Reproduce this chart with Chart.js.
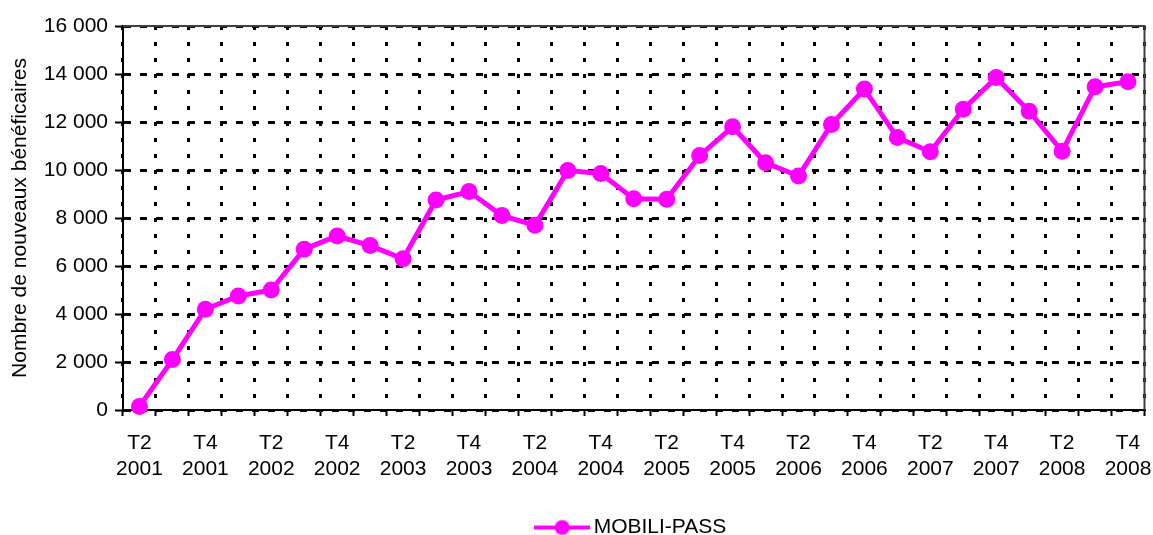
<!DOCTYPE html>
<html>
<head>
<meta charset="utf-8">
<script src="https://cdn.jsdelivr.net/npm/chart.js@4/dist/chart.umd.min.js"></script>
<style>
  html, body { margin: 0; padding: 0; background: #fff; }
  #wrap { width: 1153px; height: 535px; }
</style>
</head>
<body>
<div id="wrap"><canvas id="chart"></canvas></div>
<script>
// quarters T2 2001 -> T4 2008
const quarters = [
  'T2 2001', 'T3 2001', 'T4 2001',
  'T1 2002', 'T2 2002', 'T3 2002', 'T4 2002',
  'T1 2003', 'T2 2003', 'T3 2003', 'T4 2003',
  'T1 2004', 'T2 2004', 'T3 2004', 'T4 2004',
  'T1 2005', 'T2 2005', 'T3 2005', 'T4 2005',
  'T1 2006', 'T2 2006', 'T3 2006', 'T4 2006',
  'T1 2007', 'T2 2007', 'T3 2007', 'T4 2007',
  'T1 2008', 'T2 2008', 'T3 2008', 'T4 2008'
];

const mobiliPass = [
  150, 2100, 4200,
  4750, 5000, 6700, 7250,
  6850, 6300, 8750, 9100,
  8100, 7700, 9980, 9850,
  8800, 8780, 10600, 11800,
  10300, 9750, 11900, 13370,
  11350, 10760, 12530, 13850,
  12450, 10780, 13470, 13680
];

const yTicks = [0, 2000, 4000, 6000, 8000, 10000, 12000, 14000, 16000];

const seriesName = 'MOBILI-PASS';
const yTitle = 'Nombre de nouveaux bénéficaires';

const MAGENTA = '#ff00ff';
const FONT = "'Liberation Sans', Arial, sans-serif";

// legend symbol: line with a dot in the middle
function legendSymbol() {
  const c = document.createElement('canvas');
  c.width = 56; c.height = 18;
  const g = c.getContext('2d');
  g.strokeStyle = MAGENTA;
  g.lineWidth = 4;
  g.beginPath();
  g.moveTo(0, 9);
  g.lineTo(56, 9);
  g.stroke();
  g.fillStyle = MAGENTA;
  g.beginPath();
  g.arc(28, 9, 7.5, 0, Math.PI * 2);
  g.fill();
  return c;
}

function fmt(v) {
  return String(v).replace(/\B(?=(\d{3})+(?!\d))/g, ' ');
}

// top and right edges of the plot area
const plotFrame = {
  id: 'plotFrame',
  beforeDatasetsDraw(chart) {
    const { ctx, chartArea: a } = chart;
    ctx.save();
    ctx.strokeStyle = '#404040';
    ctx.lineWidth = 2;
    ctx.beginPath();
    ctx.moveTo(a.left, a.top);
    ctx.lineTo(a.right, a.top);
    ctx.lineTo(a.right, a.bottom);
    ctx.stroke();
    ctx.restore();
  }
};

const symbol = legendSymbol();

new Chart(document.getElementById('chart'), {
  type: 'line',
  data: {
    labels: quarters,
    datasets: [{
      label: seriesName,
      data: mobiliPass,
      borderColor: MAGENTA,
      backgroundColor: MAGENTA,
      borderWidth: 5,
      pointRadius: 8.5,
      pointHoverRadius: 8.5,
      pointBackgroundColor: MAGENTA,
      pointBorderColor: MAGENTA,
      pointBorderWidth: 0,
      tension: 0,
      clip: false
    }]
  },
  options: {
    responsive: true,
    maintainAspectRatio: false,
    animation: false,
    events: [],
    // legend sits low, so let its box run past the bottom edge
    layout: { padding: { top: 26, right: 7, left: 0, bottom: -13 } },
    plugins: {
      tooltip: { enabled: false },
      legend: {
        position: 'bottom',
        fullSize: false,
        labels: {
          usePointStyle: true,
          pointStyleWidth: 42,
          color: '#000',
          padding: 0,
          font: { family: FONT, size: 21 },
          generateLabels: (chart) => [{
            text: seriesName,
            pointStyle: symbol,
            fillStyle: MAGENTA,
            strokeStyle: MAGENTA,
            lineWidth: 0,
            datasetIndex: 0
          }]
        }
      }
    },
    scales: {
      x: {
        offset: true,
        grid: {
          offset: true,
          color: '#000',
          lineWidth: 3,
          drawTicks: true,
          tickLength: 6,
          tickColor: '#000',
          tickWidth: 2
        },
        border: { display: true, color: '#000', width: 2, dash: [4, 12] },
        ticks: {
          autoSkip: false,
          maxRotation: 0,
          color: '#000',
          padding: 15,
          font: { family: FONT, size: 21, lineHeight: 1.2 },
          callback: function (value, index) {
            if (index % 2 !== 0) return '';
            return this.getLabelForValue(value).split(' ');
          }
        },
        afterFit: (scale) => {
          scale.height = 107;
          scale.paddingLeft = 0;
          scale.paddingRight = 0;
        }
      },
      y: {
        min: 0,
        max: 16000,
        afterBuildTicks: (scale) => { scale.ticks = yTicks.map(v => ({ value: v })); },
        grid: {
          color: '#000',
          lineWidth: 3,
          tickLength: 8,
          tickColor: '#000',
          tickWidth: 2
        },
        border: { display: true, color: '#000', width: 2, dash: [7, 9] },
        ticks: {
          color: '#000',
          padding: 7,
          font: { family: FONT, size: 21 },
          callback: (v) => fmt(v)
        },
        title: {
          display: true,
          text: yTitle,
          color: '#000',
          font: { family: FONT, size: 21 },
          padding: { top: 8, bottom: 0 }
        },
        afterFit: (scale) => { scale.width = 123; }
      }
    }
  },
  plugins: [plotFrame]
});
</script>
</body>
</html>
